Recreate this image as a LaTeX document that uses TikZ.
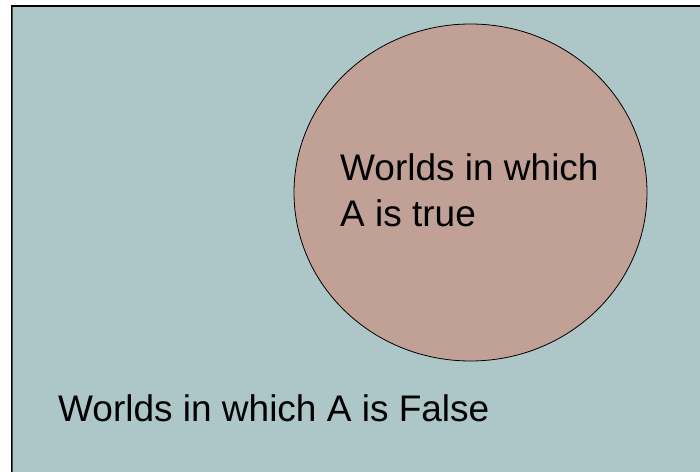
\documentclass[tikz,border=0pt]{standalone}
\usepackage{fontspec}
\setmainfont{Liberation Sans}
\definecolor{bgteal}{RGB}{173,198,199}
\definecolor{rosy}{RGB}{193,161,149}
\begin{document}
\begin{tikzpicture}[x=1bp,y=-1bp,
  lbl/.style={inner sep=0pt,font=\fontsize{37bp}{46bp}\selectfont,align=left}]
\useasboundingbox (0,0) rectangle (700,472);
\fill[white] (0,0) rectangle (700,472);
\fill[bgteal] (12,6) rectangle (702,474);
\draw[black,line width=1.2bp] (11.5,480) -- (11.5,6) -- (702,6);
\draw[black!70,line width=1bp] (12.8,480) -- (12.8,7);
\draw[fill=rosy,draw=black,line width=0.8bp] (470.5,192.5) ellipse [x radius=176.5, y radius=168.5];
\node[lbl,anchor=base west] (tru) at (340,226.7) {Worlds in which\\A is true};
\node[lbl,anchor=base west] (fal) at (58,421.7) {Worlds in which A is False};
\end{tikzpicture}
\end{document}
